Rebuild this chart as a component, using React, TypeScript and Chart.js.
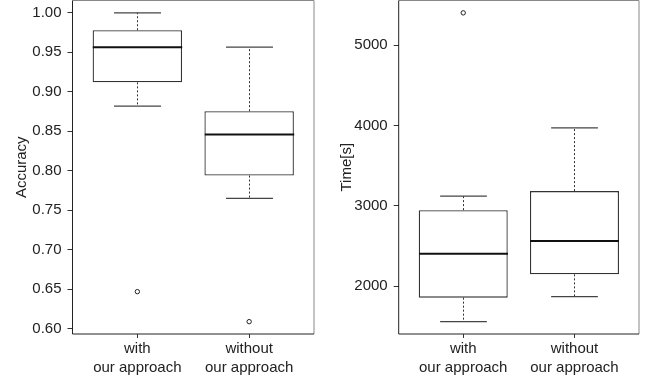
import React, { useEffect, useRef } from "react";
import { Chart, registerables } from "chart.js";

Chart.register(...registerables);

// ---- data ----
const categories: string[][] = [
  ["with", "our approach"],
  ["without", "our approach"],
];

const accLow = [0.882, 0.765];
const accQ1 = [0.912, 0.794];
const accMedian = [0.9565, 0.846];
const accQ3 = [0.978, 0.8755];
const accHigh = [1.0, 0.9565];
const accOutliers: number[][] = [[0.647], [0.609]];
const accTicks = [0.6, 0.65, 0.7, 0.75, 0.8, 0.85, 0.9, 0.95, 1.0];

const timeLow = [1557, 1868];
const timeQ1 = [1856, 2146];
const timeMedian = [2402, 2560];
const timeQ3 = [2946, 3183];
const timeHigh = [3121, 3971];
const timeOutliers: number[][] = [[5403], []];
const timeTicks = [2000, 3000, 4000, 5000];

const FONT = "'Liberation Sans', Arial, Helvetica, sans-serif";
const FSIZE = 15;
const TEXT = "#222";

type Stats = {
  low: number[];
  q1: number[];
  median: number[];
  q3: number[];
  high: number[];
  outliers: number[][];
};

function makePlugin(st: Stats) {
  return {
    id: "boxExtras",
    afterDatasetsDraw(chart: any) {
      const { ctx, scales } = chart;
      const x = scales.x;
      const y = scales.y;
      const unit = x.getPixelForValue(2) - x.getPixelForValue(1);
      const half = unit * 0.4;
      const capHalf = unit * 0.21;
      const line = (x1: number, y1: number, x2: number, y2: number) => {
        ctx.beginPath();
        ctx.moveTo(x1, y1);
        ctx.lineTo(x2, y2);
        ctx.stroke();
      };
      ctx.save();
      st.median.forEach((m, i) => {
        const cx = Math.round(x.getPixelForValue(i + 1)) + 0.5;
        const yq1 = y.getPixelForValue(st.q1[i]);
        const yq3 = y.getPixelForValue(st.q3[i]);
        const yl = y.getPixelForValue(st.low[i]);
        const yh = y.getPixelForValue(st.high[i]);
        ctx.strokeStyle = "#333";
        ctx.lineWidth = 1;
        ctx.setLineDash([2, 2]);
        if (st.high[i] > st.q3[i]) line(cx, yq3, cx, yh);
        if (st.low[i] < st.q1[i]) line(cx, yq1, cx, yl);
        ctx.setLineDash([]);
        ctx.strokeStyle = "#444";
        ctx.lineWidth = 1.2;
        line(cx - capHalf, yh, cx + capHalf, yh);
        line(cx - capHalf, yl, cx + capHalf, yl);
        ctx.strokeStyle = "#111";
        ctx.lineWidth = 2;
        const ym = y.getPixelForValue(m);
        line(cx - half, ym, cx + half, ym);
      });
      ctx.restore();
    },
    afterDraw(chart: any) {
      const { ctx, chartArea: a } = chart;
      ctx.save();
      ctx.lineWidth = 1;
      ctx.strokeStyle = "#888";
      ctx.beginPath();
      ctx.moveTo(a.left, a.top);
      ctx.lineTo(a.right, a.top);
      ctx.lineTo(a.right, a.bottom);
      ctx.stroke();
      ctx.strokeStyle = "#222";
      ctx.beginPath();
      ctx.moveTo(a.left, a.top);
      ctx.lineTo(a.left, a.bottom);
      ctx.lineTo(a.right, a.bottom);
      ctx.stroke();
      ctx.restore();
    },
  };
}

const zeroPad = (s: any) => {
  s.paddingLeft = 0;
  s.paddingRight = 0;
  s.paddingTop = 0;
  s.paddingBottom = 0;
};

function Panel(props: {
  stats: Stats;
  ticks: number[];
  title: string;
  fmt: (v: number) => string;
  left: number;
  width: number;
  axisWidth: number;
  padRight: number;
  titlePad: number;
}) {
  const ref = useRef<HTMLCanvasElement | null>(null);
  useEffect(() => {
    const st = props.stats;
    const all = [...st.low, ...st.high, ...st.outliers.flat()];
    const dmin = Math.min(...all);
    const dmax = Math.max(...all);
    const ext = (dmax - dmin) * 0.04;
    const boxData = st.q1.map((q, i) => ({ x: i + 1, y: [q, st.q3[i]] }));
    const outData: { x: number; y: number }[] = [];
    st.outliers.forEach((arr, i) => arr.forEach((v) => outData.push({ x: i + 1, y: v })));

    const chart = new Chart(ref.current as HTMLCanvasElement, {
      type: "bar",
      data: {
        datasets: [
          {
            type: "bar",
            data: boxData as any,
            backgroundColor: "#fff",
            borderColor: "#333",
            borderWidth: 1.3,
            borderSkipped: false,
            barPercentage: 1,
            categoryPercentage: 0.8,
          } as any,
          {
            type: "scatter",
            data: outData,
            pointRadius: 2.2,
            pointBorderWidth: 1,
            pointBorderColor: "#222",
            pointBackgroundColor: "#fff",
          } as any,
        ],
      },
      options: {
        responsive: false,
        animation: false,
        devicePixelRatio: 1,
        layout: { autoPadding: false, padding: { left: 0, right: props.padRight, top: 0.5, bottom: 0 } },
        plugins: { legend: { display: false }, tooltip: { enabled: false } },
        scales: {
          x: {
            type: "linear",
            min: 0.5 - 0.08,
            max: 2.5 + 0.08,
            offset: false,
            border: { display: false },
            grid: { offset: false, drawOnChartArea: false, drawTicks: true, tickLength: 4, color: "#333" },
            ticks: {
              autoSkip: false,
              maxRotation: 0,
              padding: 1.5,
              color: TEXT,
              font: { family: FONT, size: FSIZE, lineHeight: "18.6px" as any },
              callback: (v: any) => categories[Math.round(Number(v)) - 1] as any,
            },
            afterBuildTicks: (s: any) => {
              s.ticks = categories.map((_, i) => ({ value: i + 1 }));
            },
            afterFit: (s: any) => {
              s.height = 47;
              zeroPad(s);
            },
          },
          y: {
            type: "linear",
            min: dmin - ext,
            max: dmax + ext,
            border: { display: false },
            grid: { offset: false, drawOnChartArea: false, drawTicks: true, tickLength: 5, color: "#333" },
            ticks: {
              padding: 6,
              color: TEXT,
              font: { family: FONT, size: FSIZE },
              callback: (v: any) => props.fmt(Number(v)),
            },
            afterBuildTicks: (s: any) => {
              s.ticks = props.ticks.map((v) => ({ value: v }));
            },
            afterFit: (s: any) => {
              s.width = props.axisWidth;
              zeroPad(s);
            },
            title: {
              display: true,
              text: props.title,
              color: TEXT,
              font: { family: FONT, size: FSIZE },
              padding: { top: props.titlePad, bottom: 0 },
            },
          },
        },
      } as any,
      plugins: [makePlugin(st)],
    });
    return () => chart.destroy();
  }, []);
  return (
    <canvas
      ref={ref}
      width={props.width}
      height={381}
      style={{ position: "absolute", left: props.left, top: 0, width: props.width, height: 381, display: "block" }}
    />
  );
}

export default function App() {
  const accStats: Stats = {
    low: accLow,
    q1: accQ1,
    median: accMedian,
    q3: accQ3,
    high: accHigh,
    outliers: accOutliers,
  };
  const timeStats: Stats = {
    low: timeLow,
    q1: timeQ1,
    median: timeMedian,
    q3: timeQ3,
    high: timeHigh,
    outliers: timeOutliers,
  };
  return (
    <div style={{ position: "fixed", left: 0, top: 0, width: 645, height: 381, background: "#fff" }}>
      <Panel
        stats={accStats}
        ticks={accTicks}
        title="Accuracy"
        fmt={(v) => v.toFixed(2)}
        left={0}
        width={322}
        axisWidth={72.5}
        padRight={8}
        titlePad={13}
      />
      <Panel
        stats={timeStats}
        ticks={timeTicks}
        title="Time[s]"
        fmt={(v) => String(Math.round(v))}
        left={322}
        width={323}
        axisWidth={76.7}
        padRight={6}
        titlePad={15.5}
      />
    </div>
  );
}
